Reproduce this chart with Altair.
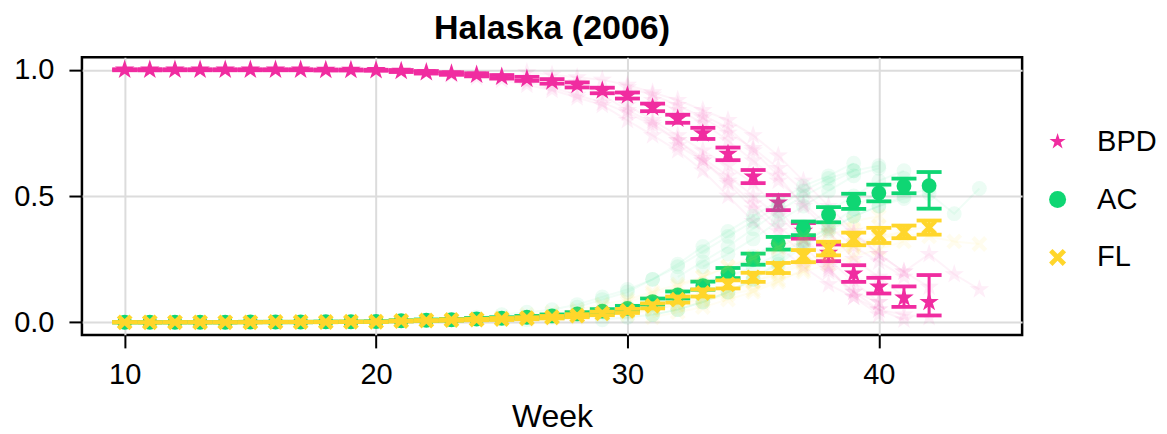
import altair as alt
import pandas as pd

# ---------------- data ----------------
weeks = [10, 11, 12, 13, 14, 15, 16, 17, 18, 19, 20, 21, 22, 23, 24, 25, 26,
         27, 28, 29, 30, 31, 32, 33, 34, 35, 36, 37, 38, 39, 40, 41, 42]
series_names = ["BPD", "AC", "FL"]
series_colors = ["#F02CA0", "#0FD673", "#FFD62B"]

bpd_mean = [1.000, 1.000, 1.000, 1.000, 1.000, 1.000, 1.000, 1.000, 0.999, 0.999, 0.998,
            0.995, 0.990, 0.985, 0.980, 0.972, 0.964, 0.954, 0.940, 0.918, 0.898,
            0.851, 0.806, 0.748, 0.667, 0.577, 0.474, 0.362, 0.275, 0.193, 0.141, 0.097, 0.080]
bpd_err_lo = [0.002, 0.002, 0.002, 0.002, 0.002, 0.002, 0.002, 0.002, 0.002, 0.002, 0.002,
              0.004, 0.005, 0.005, 0.006, 0.007, 0.008, 0.009, 0.010, 0.011, 0.012,
              0.015, 0.016, 0.022, 0.025, 0.026, 0.030, 0.031, 0.033, 0.033, 0.027, 0.036, 0.053]
bpd_err_hi = [0.002, 0.002, 0.002, 0.002, 0.002, 0.002, 0.002, 0.002, 0.002, 0.002, 0.002,
              0.004, 0.005, 0.005, 0.006, 0.007, 0.008, 0.009, 0.010, 0.011, 0.012,
              0.015, 0.016, 0.022, 0.025, 0.026, 0.030, 0.031, 0.033, 0.033, 0.035, 0.045, 0.107]

ac_mean = [0.000, 0.000, 0.000, 0.000, 0.000, 0.001, 0.001, 0.001, 0.002, 0.002, 0.003,
           0.006, 0.008, 0.010, 0.013, 0.016, 0.020, 0.025, 0.033, 0.044, 0.055,
           0.082, 0.108, 0.145, 0.195, 0.250, 0.313, 0.372, 0.426, 0.479, 0.512, 0.540, 0.541]
ac_err_lo = [0.001, 0.001, 0.001, 0.001, 0.001, 0.001, 0.001, 0.001, 0.001, 0.001, 0.001,
             0.002, 0.003, 0.003, 0.004, 0.004, 0.005, 0.006, 0.007, 0.008, 0.010,
             0.012, 0.014, 0.016, 0.020, 0.022, 0.025, 0.027, 0.030, 0.030, 0.033, 0.029, 0.091]
ac_err_hi = [0.001, 0.001, 0.001, 0.001, 0.001, 0.001, 0.001, 0.001, 0.001, 0.001, 0.001,
             0.002, 0.003, 0.003, 0.004, 0.004, 0.005, 0.006, 0.007, 0.008, 0.010,
             0.012, 0.014, 0.016, 0.020, 0.022, 0.025, 0.027, 0.030, 0.030, 0.033, 0.029, 0.054]

fl_mean = [0.000, 0.000, 0.000, 0.000, 0.000, 0.000, 0.001, 0.001, 0.001, 0.002, 0.002,
           0.005, 0.007, 0.009, 0.011, 0.013, 0.016, 0.020, 0.026, 0.035, 0.045,
           0.065, 0.090, 0.116, 0.150, 0.178, 0.215, 0.262, 0.292, 0.330, 0.344, 0.358, 0.375]
fl_err_lo = [0.001, 0.001, 0.001, 0.001, 0.001, 0.001, 0.001, 0.001, 0.001, 0.001, 0.001,
             0.002, 0.002, 0.003, 0.003, 0.004, 0.004, 0.005, 0.006, 0.007, 0.008,
             0.010, 0.012, 0.014, 0.016, 0.018, 0.020, 0.024, 0.027, 0.025, 0.030, 0.025, 0.028]
fl_err_hi = [0.001, 0.001, 0.001, 0.001, 0.001, 0.001, 0.001, 0.001, 0.001, 0.001, 0.001,
             0.002, 0.002, 0.003, 0.003, 0.004, 0.004, 0.005, 0.006, 0.007, 0.008,
             0.010, 0.012, 0.014, 0.016, 0.018, 0.020, 0.024, 0.027, 0.025, 0.030, 0.025, 0.028]

# faint individual trajectories: (first week, values for consecutive weeks)
bpd_traj = [
    (22, [0.99, 0.98, 0.98, 0.97, 0.95, 0.93, 0.90, 0.87, 0.83, 0.78, 0.72, 0.64, 0.55, 0.45, 0.36, 0.27, 0.20, 0.12, 0.08]),
    (24, [0.97, 0.96, 0.94, 0.92, 0.89, 0.86, 0.80, 0.74, 0.68, 0.60, 0.50, 0.40, 0.30, 0.22, 0.15, 0.10, 0.05, 0.03, 0.02]),
    (26, [0.99, 0.98, 0.97, 0.96, 0.94, 0.91, 0.88, 0.84, 0.80, 0.74, 0.66, 0.56, 0.46, 0.36, 0.27, 0.20, 0.14]),
    (28, [0.95, 0.90, 0.84, 0.79, 0.72, 0.65, 0.58, 0.50, 0.42, 0.33, 0.25, 0.16, 0.08]),
    (30, [0.93, 0.90, 0.86, 0.81, 0.75, 0.69, 0.61, 0.52, 0.43, 0.35, 0.27, 0.20, 0.27, 0.19, 0.13]),
    (32, [0.70, 0.64, 0.56, 0.47, 0.38, 0.30, 0.21, 0.12, 0.05, 0.01]),
    (30, [0.86, 0.80, 0.74, 0.68, 0.62, 0.55, 0.45, 0.33, 0.22, 0.10, 0.03]),
    (31, [0.88, 0.84, 0.79, 0.72, 0.64, 0.56, 0.47, 0.38, 0.30, 0.24, 0.18]),
    (33, [0.82, 0.77, 0.68, 0.58, 0.46, 0.36, 0.25, 0.18, 0.10]),
]
ac_traj = [
    (24, [0.02, 0.03, 0.04, 0.05, 0.07, 0.10, 0.13, 0.17, 0.22, 0.28, 0.34, 0.40, 0.46, 0.52, 0.57, 0.60, 0.62]),
    (26, [0.01, 0.02, 0.03, 0.04, 0.06, 0.08, 0.11, 0.14, 0.18, 0.22, 0.27, 0.32, 0.37, 0.42, 0.46, 0.50, 0.53]),
    (28, [0.06, 0.09, 0.12, 0.17, 0.23, 0.30, 0.36, 0.42, 0.48, 0.54, 0.58, 0.63]),
    (29, [0.01, 0.02, 0.03, 0.05, 0.08, 0.12, 0.17, 0.23, 0.30, 0.36, 0.42, 0.46, 0.49, 0.51, 0.43, 0.53]),
    (30, [0.04, 0.07, 0.10, 0.15, 0.20, 0.26, 0.32, 0.38, 0.44, 0.50, 0.56, 0.60]),
    (32, [0.18, 0.24, 0.30, 0.37, 0.44, 0.50, 0.55, 0.60]),
    (31, [0.03, 0.05, 0.08, 0.12, 0.17, 0.24, 0.31, 0.38, 0.45, 0.52, 0.57]),
    (33, [0.22, 0.27, 0.33, 0.40, 0.46, 0.52, 0.58, 0.61]),
]
fl_traj = [
    (24, [0.01, 0.02, 0.03, 0.04, 0.05, 0.07, 0.09, 0.12, 0.15, 0.18, 0.22, 0.25, 0.29, 0.32, 0.35, 0.37, 0.38]),
    (26, [0.01, 0.015, 0.02, 0.03, 0.04, 0.05, 0.07, 0.09, 0.12, 0.16, 0.19, 0.23, 0.27, 0.31, 0.34, 0.36, 0.38]),
    (28, [0.04, 0.06, 0.08, 0.11, 0.14, 0.18, 0.22, 0.26, 0.30, 0.34, 0.37, 0.40, 0.42]),
    (30, [0.03, 0.05, 0.07, 0.10, 0.13, 0.16, 0.20, 0.24, 0.28, 0.31, 0.33, 0.35, 0.34, 0.32, 0.31]),
    (32, [0.06, 0.08, 0.11, 0.13, 0.17, 0.20, 0.23, 0.26, 0.29, 0.32]),
    (31, [0.02, 0.04, 0.06, 0.09, 0.12, 0.16, 0.21, 0.26, 0.30, 0.33, 0.36]),
]

# ---------------- tables ----------------
STAR = ("M0,-1L0.225,-0.309L0.951,-0.309L0.363,0.118L0.588,0.809L0,0.382"
        "L-0.588,0.809L-0.363,0.118L-0.951,-0.309L-0.225,-0.309Z")
XMARK = "M-1,-0.6L-0.6,-1L0,-0.4L0.6,-1L1,-0.6L0.4,0L1,0.6L0.6,1L0,0.4L-0.6,1L-1,0.6L-0.4,0Z"
shapes = [STAR, "circle", XMARK]
sizes = [420, 220, 250]

rows = []
for name, m, lo, hi in [("BPD", bpd_mean, bpd_err_lo, bpd_err_hi),
                        ("AC", ac_mean, ac_err_lo, ac_err_hi),
                        ("FL", fl_mean, fl_err_lo, fl_err_hi)]:
    for w, v, a, b in zip(weeks, m, lo, hi):
        rows.append({"series": name, "week": w, "mean": v, "lo": v - a, "hi": v + b})
mean_df = pd.DataFrame(rows)

trows = []
for name, trajs in [("BPD", bpd_traj), ("AC", ac_traj), ("FL", fl_traj)]:
    for i, (start, vals) in enumerate(trajs):
        for k, v in enumerate(vals):
            trows.append({"series": name, "traj": f"{name}{i}", "week": start + k, "value": v})
traj_df = pd.DataFrame(trows)

FONT = "Liberation Sans"

x_scale = alt.Scale(domain=[8.3, 45.7], nice=False, zero=False)
y_scale = alt.Scale(domain=[-0.05, 1.05], nice=False, zero=False)
x_axis = alt.Axis(values=[10, 20, 30, 40], title="Week", format="d",
                  tickSize=13, labelPadding=13, titlePadding=12)
y_axis = alt.Axis(values=[0, 0.5, 1.0], title=None, format=".1f",
                  tickSize=13, labelPadding=15)

color_scale = alt.Scale(domain=series_names, range=series_colors)
shape_scale = alt.Scale(domain=series_names, range=shapes)
legend = alt.Legend(title=None, orient="none", legendX=962, legendY=70,
                    labelFontSize=29, labelFont=FONT, symbolSize=290,
                    symbolOpacity=1, symbolStrokeWidth=0, rowPadding=28,
                    labelOffset=25)

layers = []
for name, col, shp, sz in zip(series_names, series_colors, shapes, sizes):
    tb = alt.Chart(traj_df).transform_filter(alt.datum.series == name)
    layers.append(tb.mark_line(color=col, opacity=0.06, strokeWidth=2).encode(
        x=alt.X("week:Q", scale=x_scale, axis=x_axis),
        y=alt.Y("value:Q", scale=y_scale, axis=y_axis),
        detail="traj:N"))
    layers.append(tb.mark_point(color=col, filled=True, shape=shp, size=sz,
                                opacity=0.08, strokeWidth=0).encode(
        x=alt.X("week:Q", scale=x_scale, axis=x_axis),
        y=alt.Y("value:Q", scale=y_scale, axis=y_axis)))
    mb = alt.Chart(mean_df).transform_filter(alt.datum.series == name)
    layers.append(mb.mark_rule(color=col, strokeWidth=3).encode(
        x=alt.X("week:Q", scale=x_scale, axis=x_axis),
        y=alt.Y("lo:Q", scale=y_scale, axis=y_axis), y2="hi:Q"))
    for fld in ["lo", "hi"]:
        layers.append(mb.mark_tick(color=col, orient="horizontal", size=25,
                                   thickness=3.8, opacity=1).encode(
            x=alt.X("week:Q", scale=x_scale, axis=x_axis),
            y=alt.Y(f"{fld}:Q", scale=y_scale, axis=y_axis)))
    layers.append(mb.mark_point(filled=True, size=sz, opacity=1, strokeWidth=0).encode(
        x=alt.X("week:Q", scale=x_scale, axis=x_axis),
        y=alt.Y("mean:Q", scale=y_scale, axis=y_axis),
        color=alt.Color("series:N", scale=color_scale, legend=legend),
        shape=alt.Shape("series:N", scale=shape_scale, legend=legend)))

chart = alt.layer(*layers).properties(
    width=941, height=278,
    padding={"left": 74, "top": 49, "right": 137, "bottom": 100},
    autosize=alt.AutoSizeParams(type="none"),
    title=alt.TitleParams("Halaska (2006)", fontSize=34, fontWeight="bold",
                          font=FONT, anchor="middle", offset=10, color="black"),
).configure_view(stroke="black", strokeWidth=2.5
).configure_axis(domain=False, grid=True, gridColor="#dcdcdc", gridWidth=2,
                 tickColor="black", tickWidth=2, labelFont=FONT, labelFontSize=29,
                 labelColor="black", titleFont=FONT, titleFontSize=32,
                 titleFontWeight="normal", titleColor="black")

chart.save("out.html", embed_options={"renderer": "svg", "actions": False})
